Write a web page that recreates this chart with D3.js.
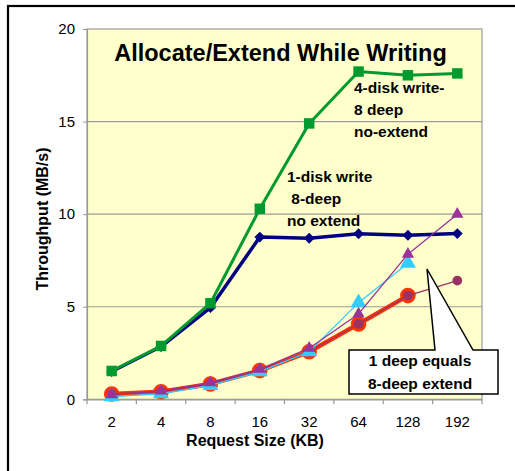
<!DOCTYPE html>
<html>
<head>
<meta charset="utf-8">
<script src="https://cdn.jsdelivr.net/npm/d3@7"></script>
<style>
  html, body { margin: 0; padding: 0; background: #fff; }
  svg { display: block; font-family: Arial, "Liberation Sans", sans-serif; }
</style>
</head>
<body>
<svg id="chart" width="515" height="471"></svg>
<script>
// ---- data ----
const categories = ["2", "4", "8", "16", "32", "64", "128", "192"];
const fourDisk8Deep = [1.53, 2.88, 5.19, 10.29, 14.9, 17.7, 17.5, 17.6];
const oneDisk8Deep = [1.5, 2.85, 4.95, 8.76, 8.7, 8.94, 8.86, 8.95];
const oneDeepRed = [0.29, 0.41, 0.83, 1.55, 2.57, 4.07, 5.6, null];
const oneDeepMaroon = [0.29, 0.41, 0.83, 1.55, 2.57, 4.07, 5.6, 6.41];
const extendCyan = [0.14, 0.3, 0.75, 1.49, 2.57, 5.22, 7.35, null];
const extendPurple = [0.25, 0.45, 0.9, 1.62, 2.76, 4.61, 7.84, 10.0];
const yTicks = [0, 5, 10, 15, 20];

const svg = d3.select("#chart");
const L = 87, R = 482, T = 29, B = 399.3;

const x = d3.scaleBand().domain(categories).range([L, R]).padding(0);
const y = d3.scaleLinear().domain([0, 20]).range([B, T]);
const cx = c => x(c) + x.bandwidth() / 2;

// outer frame
svg.append("rect").attr("x", 8).attr("y", 6).attr("width", 540).attr("height", 500)
  .attr("fill", "#fff").attr("stroke", "#000").attr("stroke-width", 2.2);

// plot area
svg.append("rect").attr("x", L).attr("y", T).attr("width", R - L).attr("height", B - T)
  .attr("fill", "#FFFFCC").attr("stroke", "#9a9a9a").attr("stroke-width", 1.2);

// gridlines
svg.append("g").selectAll("line").data(yTicks.filter(v => v > 0 && v < 20)).join("line")
  .attr("x1", L).attr("x2", R).attr("y1", d => y(d)).attr("y2", d => y(d))
  .attr("stroke", "#9a9a9a").attr("stroke-width", 1.2);

// y axis
const yAxis = svg.append("g").attr("transform", `translate(${L},0)`)
  .call(d3.axisLeft(y).tickValues(yTicks).tickSize(4).tickPadding(8).tickFormat(d3.format("d")));
yAxis.select(".domain").attr("stroke", "#9a9a9a").attr("stroke-width", 1.2);
yAxis.selectAll(".tick line").attr("stroke", "#9a9a9a");
yAxis.selectAll("text").attr("font-size", 15).attr("fill", "#000")
  .attr("font-family", "Arial, 'Liberation Sans', sans-serif");

// x axis
const xAxis = svg.append("g").attr("transform", `translate(0,${B})`)
  .call(d3.axisBottom(x).tickSize(0).tickPadding(17));
xAxis.select(".domain").attr("stroke", "#9a9a9a").attr("stroke-width", 1.2);
xAxis.selectAll("text").attr("font-size", 15).attr("fill", "#000")
  .attr("font-family", "Arial, 'Liberation Sans', sans-serif");
const bounds = categories.map(c => x(c)).concat([R]);
xAxis.append("g").selectAll("line").data(bounds).join("line")
  .attr("x1", d => d).attr("x2", d => d).attr("y1", 0).attr("y2", 5)
  .attr("stroke", "#9a9a9a").attr("stroke-width", 1.2);

// axis titles
svg.append("text").attr("x", 255).attr("y", 446).attr("text-anchor", "middle")
  .attr("font-size", 16).attr("font-weight", "bold").text("Request Size (KB)");
svg.append("text").attr("transform", "translate(48,219) rotate(-90)").attr("text-anchor", "middle")
  .attr("font-size", 16).attr("font-weight", "bold").text("Throughput (MB/s)");

// chart title
svg.append("text").attr("x", 280.5).attr("y", 61).attr("text-anchor", "middle")
  .attr("font-size", 23.5).attr("font-weight", "bold").text("Allocate/Extend While Writing");

// helpers
const lineGen = d3.line().defined(d => d.v != null).x(d => cx(d.c)).y(d => y(d.v));
const pts = arr => categories.map((c, i) => ({ c, v: arr[i] }));

function drawSeries(arr, color, width, marker) {
  const data = pts(arr);
  const g = svg.append("g");
  g.append("path").datum(data).attr("d", lineGen).attr("fill", "none")
    .attr("stroke", color).attr("stroke-width", width).attr("stroke-linejoin", "round");
  const sym = g.selectAll("path.m").data(data.filter(d => d.v != null)).join("path")
    .attr("class", "m")
    .attr("transform", d => `translate(${cx(d.c)},${y(d.v)})`)
    .attr("d", d3.symbol().type(marker.type).size(marker.size)())
    .attr("fill", marker.fill || color)
    .attr("stroke", marker.stroke || "none")
    .attr("stroke-width", marker.sw || 0);
  return g;
}

drawSeries(oneDisk8Deep, "#000080", 3.5, { type: d3.symbolDiamond2 || d3.symbolDiamond, size: 75 });
drawSeries(fourDisk8Deep, "#009A2E", 3, { type: d3.symbolSquare, size: 110 });
drawSeries(oneDeepRed, "#FF3300", 4.5, { type: d3.symbolCircle, size: 190 });
drawSeries(oneDeepMaroon, "#993366", 1.3, { type: d3.symbolCircle, size: 75 });
drawSeries(extendCyan, "#33CCFF", 1.3, { type: d3.symbolTriangle, size: 110 });
drawSeries(extendPurple, "#993399", 1.3, { type: d3.symbolTriangle, size: 65 });

// annotations
const ann = svg.append("g").attr("font-size", 15.5).attr("font-weight", "bold").attr("fill", "#000");
[["4-disk write-", 354, 93], ["8 deep", 354, 115], ["no-extend", 354, 137],
 ["1-disk write", 287, 182], [" 8-deep", 287, 204], ["no extend", 287, 226]]
  .forEach(([t, tx, ty]) => ann.append("text").attr("x", tx).attr("y", ty)
    .attr("xml:space", "preserve").style("white-space", "pre").text(t));

// callout
svg.append("path")
  .attr("d", "M349,350 L435,350 L427,269 L473,350 L498,350 L498,394 L349,394 Z")
  .attr("fill", "#fff").attr("stroke", "#000").attr("stroke-width", 1.5);
svg.append("text").attr("x", 420).attr("y", 366).attr("text-anchor", "middle")
  .attr("font-size", 15.5).attr("font-weight", "bold").text("1 deep equals");
svg.append("text").attr("x", 420).attr("y", 389).attr("text-anchor", "middle")
  .attr("font-size", 15.5).attr("font-weight", "bold").text("8-deep extend");
</script>
</body>
</html>
